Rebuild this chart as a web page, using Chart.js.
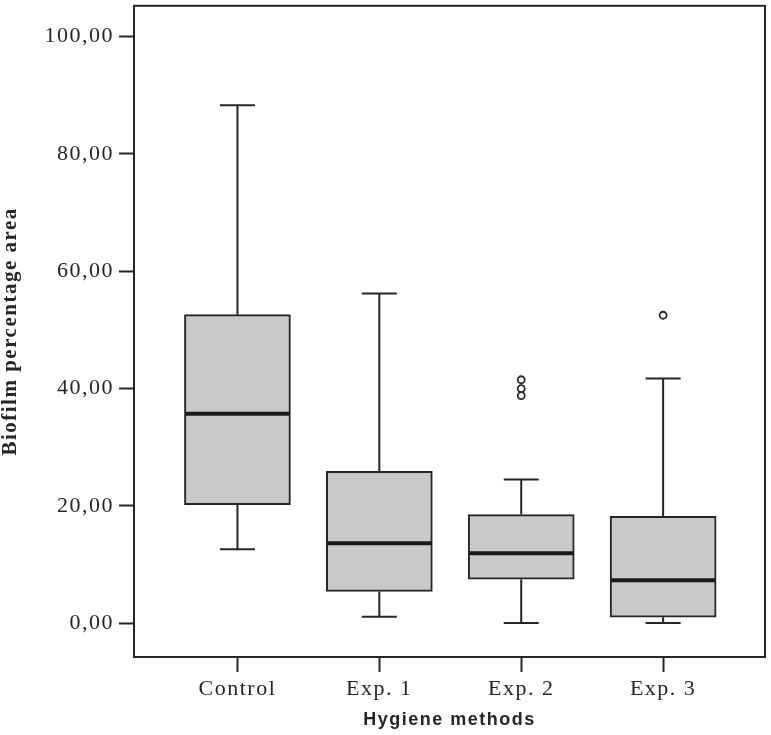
<!DOCTYPE html>
<html>
<head>
<meta charset="utf-8">
<script src="https://cdn.jsdelivr.net/npm/chart.js@4.4.1/dist/chart.umd.min.js"></script>
<style>
  html, body { margin: 0; padding: 0; background: #fff; }
</style>
</head>
<body>
<canvas id="chart" width="771" height="735"></canvas>
<script>
// Box plot data
const categories = ['Control', 'Exp. 1', 'Exp. 2', 'Exp. 3'];
const whiskerLow = [12.6, 1.1, 0.0, 0.0];
const q1 = [20.2, 5.4, 7.5, 1.0];
const median = [35.7, 13.6, 11.9, 7.3];
const q3 = [52.6, 25.9, 18.5, 18.2];
const whiskerHigh = [88.3, 56.2, 24.5, 41.7];
// outliers: category index + value
const outlierCat = [2, 2, 2, 3];
const outlierVal = [41.5, 40.0, 38.8, 52.5];
const yTicks = [0, 20, 40, 60, 80, 100];

const INK = '#262626';
const BOX_FILL = '#c8c9cb';

const fmt = v => v.toFixed(2).replace('.', ',');

// Draws whiskers, caps, medians and the plot frame
const boxPlot = {
    id: 'boxPlot',
    beforeDraw(chart) {
        chart.ctx.letterSpacing = '1.5px'; // the original typesetting is a bit spaced out
    },
    afterDatasetsDraw(chart) {
        const { ctx, scales: { x, y } } = chart;
        const bars = chart.getDatasetMeta(0).data;
        const capHalf = 17.5;
        ctx.save();
        ctx.strokeStyle = INK;
        categories.forEach((c, i) => {
            const cx = x.getPixelForValue(i);
            ctx.lineWidth = 2;
            ctx.beginPath();
            ctx.moveTo(cx, y.getPixelForValue(q3[i]));
            ctx.lineTo(cx, y.getPixelForValue(whiskerHigh[i]));
            ctx.moveTo(cx, y.getPixelForValue(q1[i]));
            ctx.lineTo(cx, y.getPixelForValue(whiskerLow[i]));
            [whiskerHigh[i], whiskerLow[i]].forEach(v => {
                const py = y.getPixelForValue(v);
                ctx.moveTo(cx - capHalf, py);
                ctx.lineTo(cx + capHalf, py);
            });
            ctx.stroke();

            const bar = bars[i];
            const my = y.getPixelForValue(median[i]);
            ctx.lineWidth = 4;
            ctx.strokeStyle = '#1a1a1a';
            ctx.beginPath();
            ctx.moveTo(bar.x - bar.width / 2 + 1, my);
            ctx.lineTo(bar.x + bar.width / 2 - 1, my);
            ctx.stroke();
            ctx.strokeStyle = INK;
        });
        ctx.restore();
    },
    afterDraw(chart) {
        const { ctx, chartArea: a } = chart;
        ctx.save();
        ctx.strokeStyle = INK;
        ctx.lineWidth = 2;
        ctx.strokeRect(a.left, a.top, a.right - a.left, a.bottom - a.top);
        ctx.restore();
        ctx.letterSpacing = '0px';
    }
};

const axisGrid = {
    drawOnChartArea: false,
    drawTicks: true,
    offset: false,
    tickLength: 15,
    tickWidth: 2,
    tickColor: INK
};

new Chart(document.getElementById('chart'), {
    type: 'bar',
    data: {
        datasets: [{
            data: categories.map((c, i) => ({ x: i, y: [q1[i], q3[i]] })),
            backgroundColor: BOX_FILL,
            borderColor: INK,
            borderWidth: 2,
            borderSkipped: false,
            barThickness: 106
        }, {
            type: 'scatter',
            data: outlierCat.map((c, k) => ({ x: c, y: outlierVal[k] })),
            pointStyle: 'circle',
            pointRadius: 3.5,
            pointBorderWidth: 1.8,
            pointBackgroundColor: '#fff',
            pointBorderColor: INK,
            showLine: false
        }]
    },
    options: {
        responsive: false,
        animation: false,
        layout: { padding: { top: 4, right: 6, left: 0, bottom: 0 } },
        plugins: {
            legend: { display: false },
            tooltip: { enabled: false }
        },
        scales: {
            x: {
                type: 'linear',
                min: -0.729,
                max: 3.718,
                offset: false,
                afterBuildTicks: s => { s.ticks = categories.map((c, i) => ({ value: i })); },
                afterFit: s => { s.height = 78; s.paddingLeft = 0; s.paddingRight = 0; },
                grid: axisGrid,
                border: { color: INK, width: 2 },
                ticks: {
                    callback: v => categories[v],
                    font: { family: '"Liberation Serif"', size: 22 },
                    color: INK,
                    padding: 4,
                    maxRotation: 0,
                    autoSkip: false
                },
                title: {
                    display: true,
                    text: 'Hygiene methods',
                    font: { family: '"Liberation Sans"', size: 18, weight: 'bold', lineHeight: 1.2 },
                    color: INK,
                    padding: { top: 0, bottom: 4 }
                }
            },
            y: {
                min: -5.78,
                max: 105.27,
                afterBuildTicks: s => { s.ticks = yTicks.map(v => ({ value: v })); },
                afterFit: s => { s.width = 134; s.paddingTop = 0; s.paddingBottom = 0; },
                grid: axisGrid,
                border: { color: INK, width: 2 },
                ticks: {
                    callback: v => fmt(v),
                    font: { family: '"Liberation Serif"', size: 22 },
                    color: INK,
                    padding: 5
                },
                title: {
                    display: true,
                    text: 'Biofilm percentage area',
                    font: { family: '"Liberation Serif"', size: 21, weight: 'bold', lineHeight: 1 },
                    color: INK,
                    padding: 0
                }
            }
        }
    },
    plugins: [boxPlot]
});
</script>
</body>
</html>
